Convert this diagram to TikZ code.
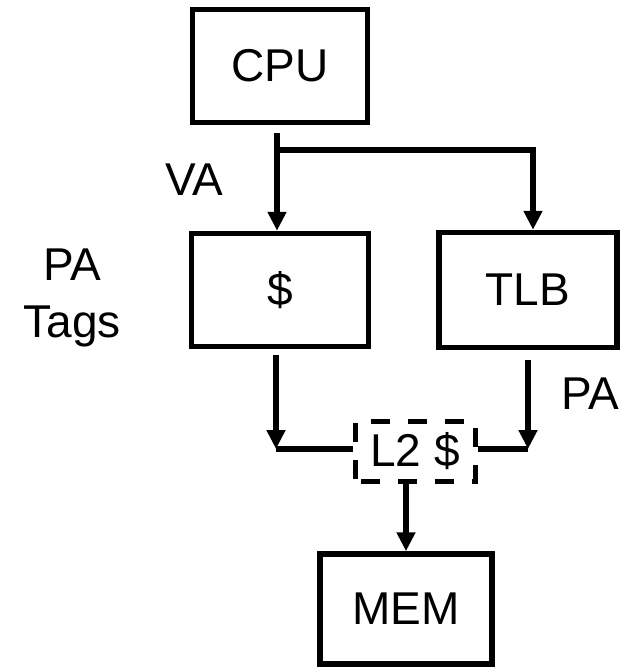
\documentclass[tikz,border=0pt]{standalone}
\usepackage{fontspec}
\setmainfont{Liberation Sans}
\usetikzlibrary{arrows.meta}
\tikzset{
  >={Triangle[length=19pt,width=18pt]},
  unit/.style={draw,line width=5.5pt,inner sep=0pt},
  l2box/.style={draw,line width=5pt,inner sep=0pt,dash pattern=on 19pt off 18pt,dash phase=-6pt},
  link/.style={line width=5.5pt},
}

\begin{document}
\begin{tikzpicture}[x=1pt,y=-1pt,font=\fontsize{46}{57}\selectfont]
  \useasboundingbox (0,0) rectangle (627,669);

  % units
  \node[unit,minimum width=175pt,minimum height=113pt] (cpu) at (280,66) {CPU};
  \node[unit,minimum width=177pt,minimum height=113pt] (cache) at (280,290) {\$};
  \node[unit,minimum width=178pt,minimum height=115pt] (tlb) at (528,290) {TLB};
  \node[l2box,minimum width=120pt,minimum height=60pt] (l2) at (415,451) {L2 \$};
  \node[unit,minimum width=172pt,minimum height=110pt] (mem) at (406,609) {MEM};

  % labels
  \node (va) at (194,180) {VA};
  \node[align=center] (patags) at (72,298) {PA\\Tags};
  \node (pa) at (590,394) {PA};

  % connectors
  \coordinate (cpuout) at (277,133);
  \coordinate (fork) at (277,150);
  \coordinate (forkR) at (533,150);
  \coordinate (joinL) at (276,449);
  \coordinate (joinR) at (528,449);
  \draw[link,->] (cpuout) -- (fork |- cache.north);
  \draw[link,->] (fork) -- (forkR) -- (forkR |- tlb.north);
  \draw[link,->] ([yshift=-6pt]cache.south -| joinL) -- (joinL);
  \draw[link] (joinL) -- (l2.west |- joinL);
  \draw[link,->] ([yshift=-10pt]tlb.south -| joinR) -- (joinR);
  \draw[link] (l2.east |- joinR) -- (joinR);
  \draw[link,->] (l2.south -| mem.north) -- (mem.north);
\end{tikzpicture}
\end{document}
